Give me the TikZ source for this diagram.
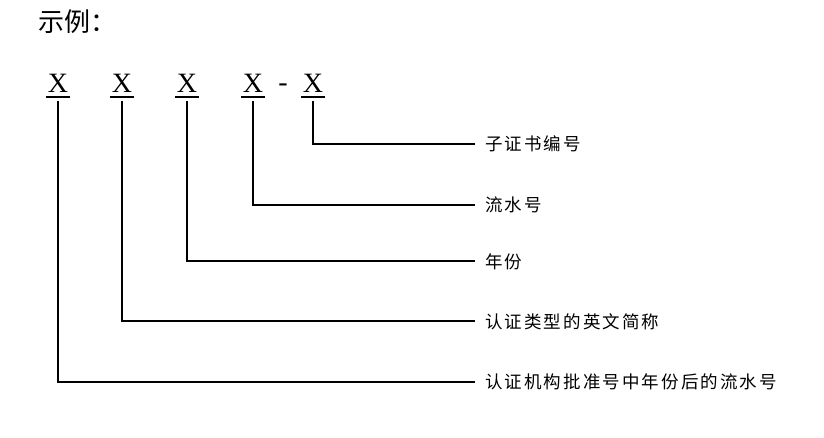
\documentclass[tikz,border=0pt]{standalone}
\usepackage{fontspec}
\setmainfont{Liberation Serif}
\newfontfamily\cjk{Noto Sans CJK SC}
\newfontfamily\cjks[LetterSpace=12]{Noto Sans CJK SC}
\begin{document}
\begin{tikzpicture}[x=1pt,y=-1pt,
  xl/.style={font=\fontsize{28}{28}\selectfont, anchor=base, inner sep=0pt},
  lab/.style={font=\cjks\fontsize{17.5}{17.5}\selectfont, anchor=west, inner sep=0pt},
  ln/.style={line width=1.1pt}]
\useasboundingbox (0,0) rectangle (824,437);
\node[font=\cjk\fontsize{26}{26}\selectfont, anchor=west, inner sep=0pt] (title) at (38,22) {示例：};
\foreach \n/\x in {a/58,b/122,c/187,d/253,e/313}{
  \node[xl] (\n) at (\x,92) {X};
  \draw[line width=1.2pt] (\x-12,97) -- (\x+12,97);
}
\node[xl] (dash) at (283,91) {-};
\coordinate (ea) at (313,101); \coordinate (eb) at (313,144); \coordinate (ec) at (475,144);
\coordinate (da) at (253,101); \coordinate (db) at (253,205); \coordinate (dc) at (475,205);
\coordinate (ca) at (187,101); \coordinate (cb) at (187,261); \coordinate (cc) at (475,261);
\coordinate (ba) at (122,101); \coordinate (bb) at (122,321); \coordinate (bc) at (475,321);
\coordinate (aa) at (58,101); \coordinate (ab) at (58,382); \coordinate (ac) at (475,382);
\draw[ln] (ea) -- (eb) -- (ec);
\draw[ln] (da) -- (db) -- (dc);
\draw[ln] (ca) -- (cb) -- (cc);
\draw[ln] (ba) -- (bb) -- (bc);
\draw[ln] (aa) -- (ab) -- (ac);
\node[lab] (l1) at (485,144) {子证书编号};
\node[lab] (l2) at (485,205) {流水号};
\node[lab] (l3) at (485,262) {年份};
\node[lab] (l4) at (485,322) {认证类型的英文简称};
\node[lab] (l5) at (485,382) {认证机构批准号中年份后的流水号};
\end{tikzpicture}
\end{document}
